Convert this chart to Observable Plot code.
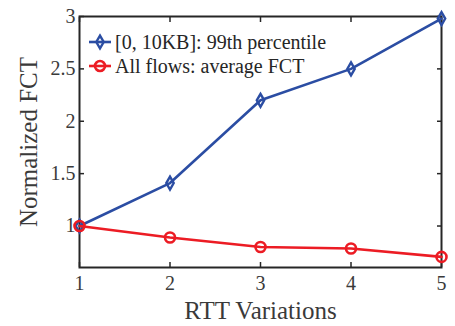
<!DOCTYPE html>
<html>
<head>
<meta charset="utf-8">
<script src="https://cdn.jsdelivr.net/npm/d3@7"></script>
<script src="https://cdn.jsdelivr.net/npm/@observablehq/plot@0.6"></script>
<style>
  html, body { margin: 0; padding: 0; background: #fff; }
  #wrap { position: relative; width: 455px; height: 326px; font-family: "Liberation Serif", serif; }
  #legend { position: absolute; left: 88px; top: 30px; font-size: 20px; color: #262626; line-height: 24px; }
  #legend .row { display: flex; align-items: center; height: 24px; white-space: nowrap; }
  #legend svg { margin-right: 3px; }
</style>
</head>
<body>
<div id="wrap"><div id="legend"></div></div>
<script>
const rttVariations = [1, 2, 3, 4, 5];
const smallFlows99 = [1.0, 1.41, 2.2, 2.5, 2.98];
const allFlowsAvg = [1.0, 0.89, 0.80, 0.785, 0.705];
const seriesNames = ["[0, 10KB]: 99th percentile", "All flows: average FCT"];
const seriesColors = ["#2B4DA3", "#EC1C24"];
const xTicks = [1, 2, 3, 4, 5];
const yTicks = [1, 1.5, 2, 2.5, 3];
const xLabel = "RTT Variations";
const yLabel = "Normalized FCT";

const rows = [];
rttVariations.forEach((x, i) => {
  rows.push({x, y: smallFlows99[i], s: seriesNames[0]});
  rows.push({x, y: allFlowsAvg[i], s: seriesNames[1]});
});
const blue = rows.filter(d => d.s === seriesNames[0]);
const red = rows.filter(d => d.s === seriesNames[1]);

const axisColor = "#262626";
const textColor = "#3a3a3a";
const chart = Plot.plot({
  width: 455,
  height: 326,
  marginLeft: 79,
  marginRight: 14,
  marginTop: 16,
  marginBottom: 59,
  style: {fontFamily: "Liberation Serif, serif", fontSize: "20px", color: textColor, background: "white"},
  x: {domain: [1, 5]},
  y: {domain: [0.604, 3]},
  marks: [
    Plot.axisX({ticks: xTicks, tickSize: -5, tickPadding: 13, tickFormat: d => String(d), stroke: axisColor, strokeWidth: 1.5, fill: textColor, label: null, fontSize: 20}),
    Plot.axisX({anchor: "top", ticks: xTicks, tickSize: -5, tickFormat: () => "", stroke: axisColor, strokeWidth: 1.5, label: null}),
    Plot.axisY({ticks: yTicks, tickSize: -5, tickPadding: 9, tickFormat: d => String(d), stroke: axisColor, strokeWidth: 1.5, fill: textColor, label: null, fontSize: 20}),
    Plot.axisY({anchor: "right", ticks: yTicks, tickSize: -5, tickFormat: () => "", stroke: axisColor, strokeWidth: 1.5, label: null}),
    Plot.text([xLabel], {frameAnchor: "bottom", textAnchor: "middle", lineAnchor: "middle", dy: 43, fontSize: 25, fill: textColor}),
    Plot.text([yLabel], {frameAnchor: "left", textAnchor: "middle", lineAnchor: "middle", dx: -51, rotate: -90, fontSize: 25, fill: textColor}),
    Plot.frame({stroke: axisColor, strokeWidth: 2}),
    Plot.line(blue, {x: "x", y: "y", stroke: seriesColors[0], strokeWidth: 2.6}),
    Plot.dot(blue, {x: "x", y: "y", stroke: seriesColors[0], strokeWidth: 2.4, symbol: "diamond", r: 3.9, fill: "none"}),
    Plot.line(red, {x: "x", y: "y", stroke: seriesColors[1], strokeWidth: 2.6}),
    Plot.dot(red, {x: "x", y: "y", stroke: seriesColors[1], strokeWidth: 2.6, symbol: "circle", r: 5, fill: "none"})
  ]
});
const wrap = document.getElementById("wrap");
wrap.insertBefore(chart, wrap.firstChild);

// legend
const legend = d3.select("#legend");
seriesNames.forEach((name, i) => {
  const row = legend.append("div").attr("class", "row");
  const svg = row.append("svg").attr("width", 24).attr("height", 18);
  svg.append("line").attr("x1", 1).attr("x2", 23).attr("y1", 9).attr("y2", 9)
    .attr("stroke", seriesColors[i]).attr("stroke-width", 2.6);
  svg.append("path").attr("transform", "translate(12,9)")
    .attr("d", d3.symbol(i === 0 ? d3.symbolDiamond : d3.symbolCircle, i === 0 ? Math.PI * 3.9 * 3.9 : Math.PI * 25)())
    .attr("fill", "none").attr("stroke", seriesColors[i]).attr("stroke-width", i === 0 ? 2.4 : 2.6);
  row.append("span").text(name);
});
</script>
</body>
</html>
